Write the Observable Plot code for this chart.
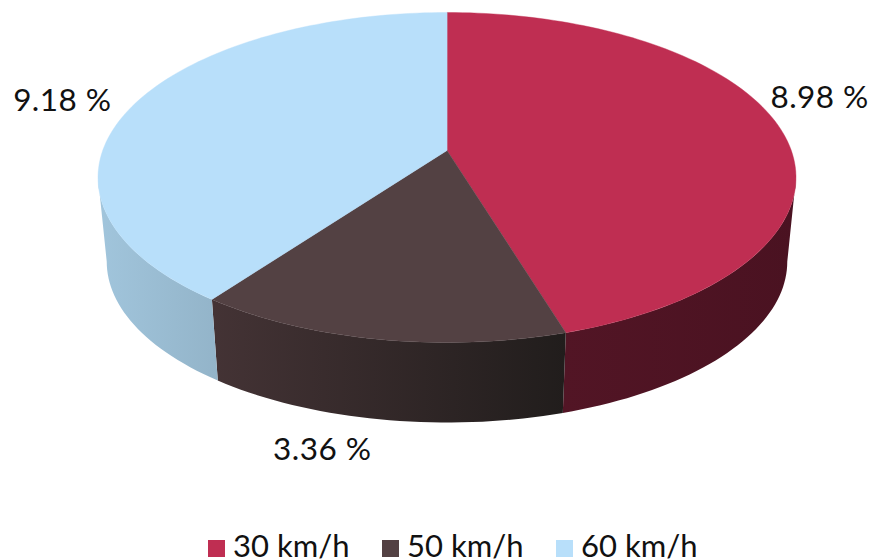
<!DOCTYPE html>
<html>
<head>
<meta charset="utf-8">
<script src="https://cdn.jsdelivr.net/npm/d3@7"></script>
<script src="https://cdn.jsdelivr.net/npm/@observablehq/plot@0.6"></script>
<style>
html,body{margin:0;padding:0;background:#fff;width:874px;height:559px;overflow:hidden}
svg{display:block}
svg text{letter-spacing:.45px}
#legend{position:relative;height:34px;overflow:hidden;font:31px Lato,sans-serif;color:#111}
#legend .item{position:absolute;top:0;height:34px}
#legend .sw{position:absolute;left:0;top:15px;width:17px;height:17px}
#legend .tx{position:absolute;left:25px;top:0;white-space:nowrap;line-height:40px}
</style>
</head>
<body>
<div id="chart"></div>
<div id="legend"></div>
<script>
// Series
const categories = ["30 km/h", "50 km/h", "60 km/h"];
const labels = ["8.98 %", "3.36 %", "9.18 %"];          // as printed in the reference
const shares = [45.3, 14.8, 39.9];                      // slice share of the circle, % (measured)
const topColors = ["#BF2E52", "#534143", "#B8DFFA"];
const wallFrom = ["#521525", "#443335", "#A1C5DC"];     // wall shade at left end
const wallTo = ["#4A1221", "#211D1C", "#93B4C9"];       // wall shade at right end
const labelDx = [40, -55.5, -73.5];
const labelDy = [-30, 111, -2];
const legendLeft = [208, 382, 556];

// Perspective view of a disc (pixel-space geometry of the drawing)
const cx = 446.5, cy = 150, a = 344.3, b = 160.6, k = 0.1636;
const wallScale = 0.975, wallCy = 234.8;
const rimRight = 180 - Math.acos(k) * 180 / Math.PI, rimLeft = 360 - rimRight; // silhouette angles
function project(deg, lower) {
  const t = deg * Math.PI / 180, u = Math.sin(t), v = -Math.cos(t), w = 1 - k * v;
  const s = lower ? wallScale : 1;
  return {x: cx + s * a * u / w, y: (lower ? wallCy : cy) + s * b * v / w};
}

let start = 0;
const slices = shares.map((p, i) => {
  const deg = p * 3.6, r = {i, from: start, to: start + deg, mid: start + deg / 2};
  start += deg;
  return r;
});

const arcAngles = (from, to) => {
  const n = Math.max(2, Math.ceil((to - from) / 1.5));
  return d3.range(n + 1).map(j => from + (to - from) * j / n);
};

// Top faces: apex + rim
const tops = slices.flatMap(s => [{x: cx, y: cy, z: s.i, color: topColors[s.i]},
  ...arcAngles(s.from, s.to).map(d => ({...project(d), z: s.i, color: topColors[s.i]}))]);

// Side wall: upper rim, then lower rim back, limited to the part facing the viewer
const walls = slices.flatMap(s => {
  const xs = arcAngles(Math.max(s.from, rimRight), Math.min(s.to, rimLeft));
  return [...xs.map(d => project(d)), ...xs.slice().reverse().map(d => project(d, true))]
    .map(q => ({...q, z: s.i, color: `url(#wall${s.i})`}));
});

const textRows = slices.map(s => ({...project(s.mid), label: labels[s.i], i: s.i}));

const gradients = () => {
  const defs = d3.create("svg:defs");
  slices.forEach(s => {
    // wall gradients run left to right on screen
    const g = defs.append("linearGradient").attr("id", `wall${s.i}`);
    g.append("stop").attr("offset", 0).attr("stop-color", wallFrom[s.i]);
    g.append("stop").attr("offset", 1).attr("stop-color", wallTo[s.i]);
  });
  return defs.node();
};

const wallMarks = slices.map(s => Plot.line(walls.filter(d => d.z === s.i), {
  x: "x", y: "y", fill: `url(#wall${s.i})`, stroke: "none", curve: "linear-closed"
}));
const topMarks = slices.map(s => Plot.line(tops.filter(d => d.z === s.i), {
  x: "x", y: "y", fill: topColors[s.i], stroke: topColors[s.i], strokeWidth: 0.4, curve: "linear-closed"
}));

const plot = Plot.plot({
  width: 874, height: 525,
  margin: 0,
  x: {domain: [0, 874], range: [0, 874], axis: null},
  y: {domain: [0, 525], range: [0, 525], axis: null},
  marks: [
    gradients,
    ...wallMarks,
    ...topMarks,
    ...textRows.map(r => Plot.text([r], {
      x: "x", y: "y", text: "label", dx: labelDx[r.i], dy: labelDy[r.i],
      fontSize: 31.5, fontFamily: "Lato, sans-serif", fill: "#111", lineAnchor: "middle"
    }))
  ]
});
document.getElementById("chart").append(plot);

const legend = d3.select("#legend");
categories.forEach((c, i) => {
  const item = legend.append("div").attr("class", "item").style("left", legendLeft[i] + "px");
  item.append("div").attr("class", "sw").style("background", topColors[i]);
  item.append("div").attr("class", "tx").text(c);
});
</script>
</body>
</html>
